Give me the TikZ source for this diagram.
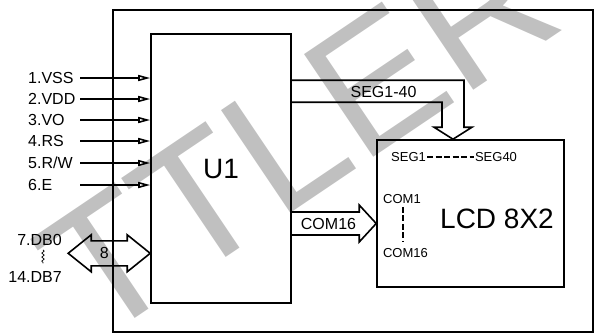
\documentclass[tikz,border=0pt]{standalone}
\usepackage{fontspec}
\setmainfont{Liberation Sans}
\usetikzlibrary{positioning, arrows.meta, calc, decorations.pathmorphing}
\definecolor{wmGray}{HTML}{C0C0C0}
\tikzset{
  every node/.style={font=\fontsize{16}{18}\selectfont},
  blk/.style={draw, line width=1.6pt, inner sep=0pt},
  pin/.style={-{Triangle[open, length=12pt, width=6pt]}, line width=1.6pt},
  fat/.style={line width=1.6pt, line join=miter},
  lbl/.style={inner sep=0pt, font=\fontsize{16}{18}\selectfont},
  small/.style={inner sep=0pt, font=\fontsize{13}{15}\selectfont},
  big/.style={inner sep=0pt, font=\fontsize{28}{30}\selectfont},
  dashln/.style={line width=1.6pt, dash pattern=on 6pt off 2.5pt},
  squig/.style={decorate, decoration={snake, amplitude=1.2pt, segment length=4pt}, line width=0.7pt},
  wmark/.style={inner sep=0pt, text=wmGray, font=\fontsize{180}{180}\selectfont},
}

\begin{document}
\begin{tikzpicture}[x=1pt, y=-1pt]
  \useasboundingbox (0,0) rectangle (596,335);
  \clip (0,0) rectangle (596,335);
  % watermark, behind everything
  \node[wmark, rotate=34, anchor=base west] (wm) at (96,345) {TTLER};
  % module outline, controller and display
  \node[blk, minimum width=480pt, minimum height=322pt] (board) at (353,171) {};
  \node[blk, big, minimum width=140pt, minimum height=269pt] (u1) at (221,168.5) {U1};
  \node[blk, minimum width=187pt, minimum height=147pt] (lcd) at (470.5,213.5) {};
  \node[big] (lcdname) at (497,219) {LCD 8X2};
  % inputs
  \coordinate (pinx) at (80,0);
  \node[lbl, anchor=west] (vss) at (28,78) {1.VSS};
  \node[lbl, anchor=west] (vdd) at (28,99) {2.VDD};
  \node[lbl, anchor=west] (vo) at (28,120) {3.VO};
  \node[lbl, anchor=west] (rs) at (28,141) {4.RS};
  \node[lbl, anchor=west] (rw) at (28,163) {5.R/W};
  \node[lbl, anchor=west] (en) at (28,185) {6.E};
  \draw[pin] (vss -| pinx) -- (vss -| u1.west);
  \draw[pin] (vdd -| pinx) -- (vdd -| u1.west);
  \draw[pin] (vo -| pinx) -- (vo -| u1.west);
  \draw[pin] (rs -| pinx) -- (rs -| u1.west);
  \draw[pin] (rw -| pinx) -- (rw -| u1.west);
  \draw[pin] (en -| pinx) -- (en -| u1.west);
  % data bus
  \node[lbl, anchor=east] (db0) at (62,240) {7.DB0};
  \node[lbl, anchor=east] (db7) at (62,277) {14.DB7};
  \draw[squig] ($(db0.south east)+(-19,4)$) -- ($(db7.north east)+(-19,-8)$);
  \coordinate (bustip) at ($(u1.south west)+(0,-50.5)$);
  \coordinate (busend) at ($(bustip)+(-82,0)$);
  \draw[fat] (bustip) -- ++(-23,-18.5) -- ++(0,6) -- ++(-36,0) -- ++(0,-6) -- (busend)
    -- ++(23,18.5) -- ++(0,-6) -- ++(36,0) -- ++(0,6) -- cycle;
  \node[lbl] (buswd) at ($(busend)!0.44!(bustip)$) {8};
  % segment lines
  \coordinate (segA) at ($(u1.north east)+(0,47)$);
  \coordinate (segB) at ($(u1.north east)+(0,69)$);
  \coordinate (segtip) at ($(lcd.north)+(-17.5,0)$);
  \draw[fat] (segA) -| ($(segtip)+(11,-12)$) -- ++(8,0) -- (segtip)
    -- ($(segtip)+(-19,-12)$) -- ++(8,0) |- (segB);
  \node[lbl] (seglbl) at (383.5,92) {SEG1-40};
  % common lines
  \coordinate (comtip) at ($(lcd.west)+(0,10)$);
  \draw[fat] ($(u1.east |- comtip)+(0,-11.5)$) -- ($(comtip)+(-17,-11.5)$) -- ++(0,-7)
    -- (comtip) -- ($(comtip)+(-17,18.5)$) -- ++(0,-7) -- ($(u1.east |- comtip)+(0,11.5)$);
  \node[lbl] (comlbl) at (328.5,224) {COM16};
  % display pins
  \node[small] (seg1) at (408.5,157) {SEG1};
  \node[small] (seg40) at (496,157) {SEG40};
  \draw[dashln] ($(seg1.east)+(1,0)$) -- ($(seg40.west)+(-1,0)$);
  \node[small] (com1) at (402,199) {COM1};
  \node[small] (com16) at (405.5,253) {COM16};
  \draw[dashln] ($(com1.south)+(1,3)$) -- ($(com1.south |- com16.north)+(1,-6)$);
\end{tikzpicture}
\end{document}
